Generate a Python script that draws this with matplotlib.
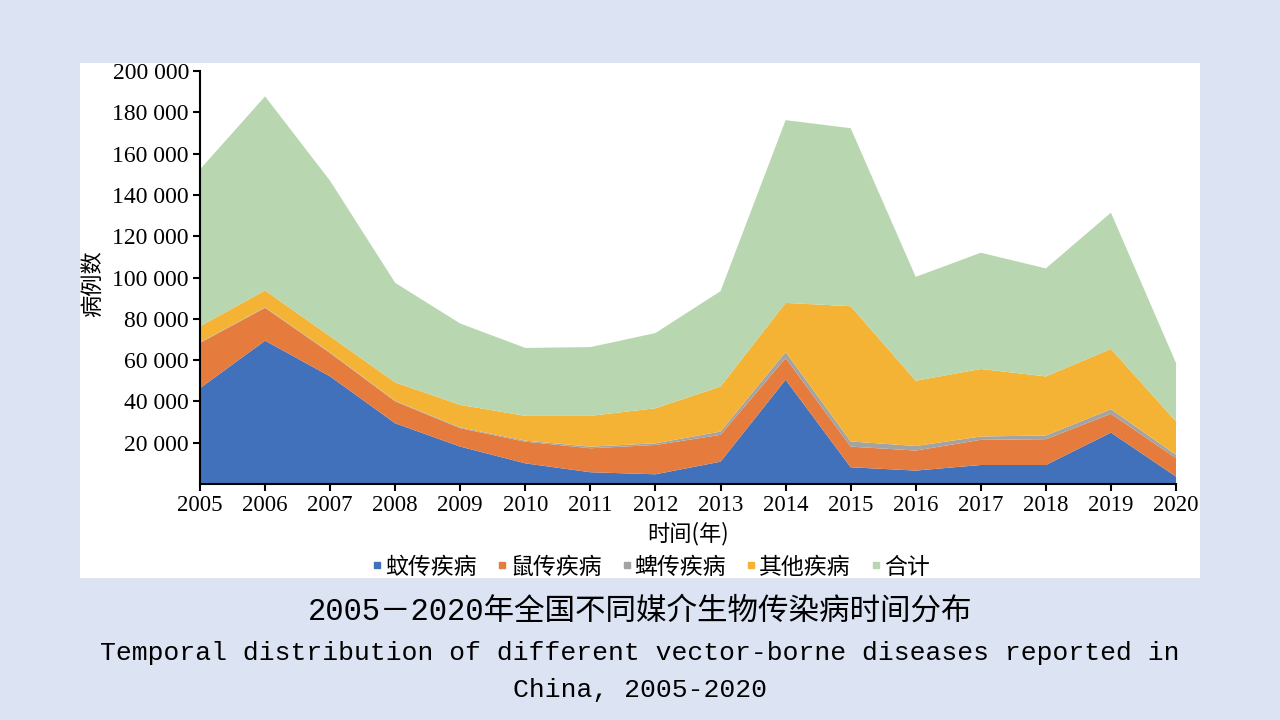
import numpy as np
import matplotlib.pyplot as plt
from matplotlib.lines import Line2D
from matplotlib.ticker import FuncFormatter

years = list(range(2005, 2021))
mosquito = [46400, 69400, 52100, 29400, 18100, 10000, 5700, 4700,
            10800, 50500, 8100, 6500, 9200, 9200, 24900, 3600]
rodent = [21900, 15900, 11300, 10600, 8900, 10500, 11600, 14200,
          13000, 10500, 10000, 9700, 12200, 12500, 9100, 8900]
tick = [300, 300, 300, 300, 400, 500, 800, 800,
        1600, 2900, 2500, 2200, 1600, 1800, 2200, 1600]
other = [7800, 8100, 7800, 8900, 10900, 12000, 14900, 17000,
         21800, 23800, 65500, 31600, 32700, 28600, 29200, 16200]
total = [76000, 94000, 75300, 48200, 39400, 32900, 33300, 36400,
         46200, 88500, 86200, 50300, 56300, 52300, 66000, 28300]

names = ['蚊传疾病', '鼠传疾病', '蜱传疾病', '其他疾病', '合计']
colors = ['#4171bb', '#e57b3c', '#a3a3a3', '#f5b335', '#b8d6b0']
yticks = list(range(20000, 200001, 20000))

cjk = ['Noto Sans CJK SC', 'DejaVu Sans']
serif = 'Liberation Serif'

fig = plt.figure(figsize=(12.8, 7.2), dpi=100)
fig.patch.set_facecolor('#dce3f3')

# white panel behind the chart
panel = fig.add_axes([80/1280, 1-578/720, 1120/1280, 515/720])
panel.set_facecolor('white')
panel.set_xticks([]); panel.set_yticks([])
for s in panel.spines.values():
    s.set_visible(False)

ax = fig.add_axes([200/1280, 1-484/720, 976/1280, 413/720])
ax.set_facecolor('none')
ax.stackplot(years, mosquito, rodent, tick, other, total,
             colors=colors, linewidth=0)
ax.set_xlim(2005, 2020)
ax.set_ylim(0, 200000)
ax.set_xticks(years)
ax.set_yticks(yticks)
ax.yaxis.set_major_formatter(FuncFormatter(lambda v, p: f'{int(v):,}'.replace(',', ' ')))
for s in ['top', 'right']:
    ax.spines[s].set_visible(False)
for s in ['left', 'bottom']:
    ax.spines[s].set_linewidth(1.5)
    ax.spines[s].set_zorder(5)
ax.tick_params(direction='out', length=5, width=1.5, pad=3)
for lab in ax.get_yticklabels():
    lab.set_fontfamily(serif)
    lab.set_fontsize(17)
for lab in ax.get_xticklabels():
    lab.set_fontfamily(serif)
    lab.set_fontsize(16.5)
ax.set_xlabel('时间(年)', fontsize=16, family=cjk, labelpad=4)
fig.text(92/1280, 1-284/720, '病例数', rotation=90, ha='center', va='center',
         fontsize=16, family=cjk)

handles = [Line2D([], [], marker='s', linestyle='none', markersize=5,
                  color=c) for c in colors]
fig.legend(handles, names, loc='center', bbox_to_anchor=(650/1280, 1-567/720),
           ncol=5, frameon=False, handlelength=0.6, handletextpad=0.05,
           columnspacing=0.8, prop={'family': cjk, 'size': 16.5})

fig.text(0.5, 1-612/720, '2005－2020年全国不同媒介生物传染病时间分布',
         ha='center', va='center', fontsize=22,
         family=['Liberation Mono', 'Noto Sans CJK SC'])
fig.text(0.5, 1-653/720,
         'Temporal distribution of different vector-borne diseases reported in',
         ha='center', va='center', fontsize=19, family='Liberation Mono')
fig.text(0.5, 1-690/720, 'China, 2005-2020',
         ha='center', va='center', fontsize=19, family='Liberation Mono')

fig.savefig('out.png', dpi=100, facecolor=fig.get_facecolor())
